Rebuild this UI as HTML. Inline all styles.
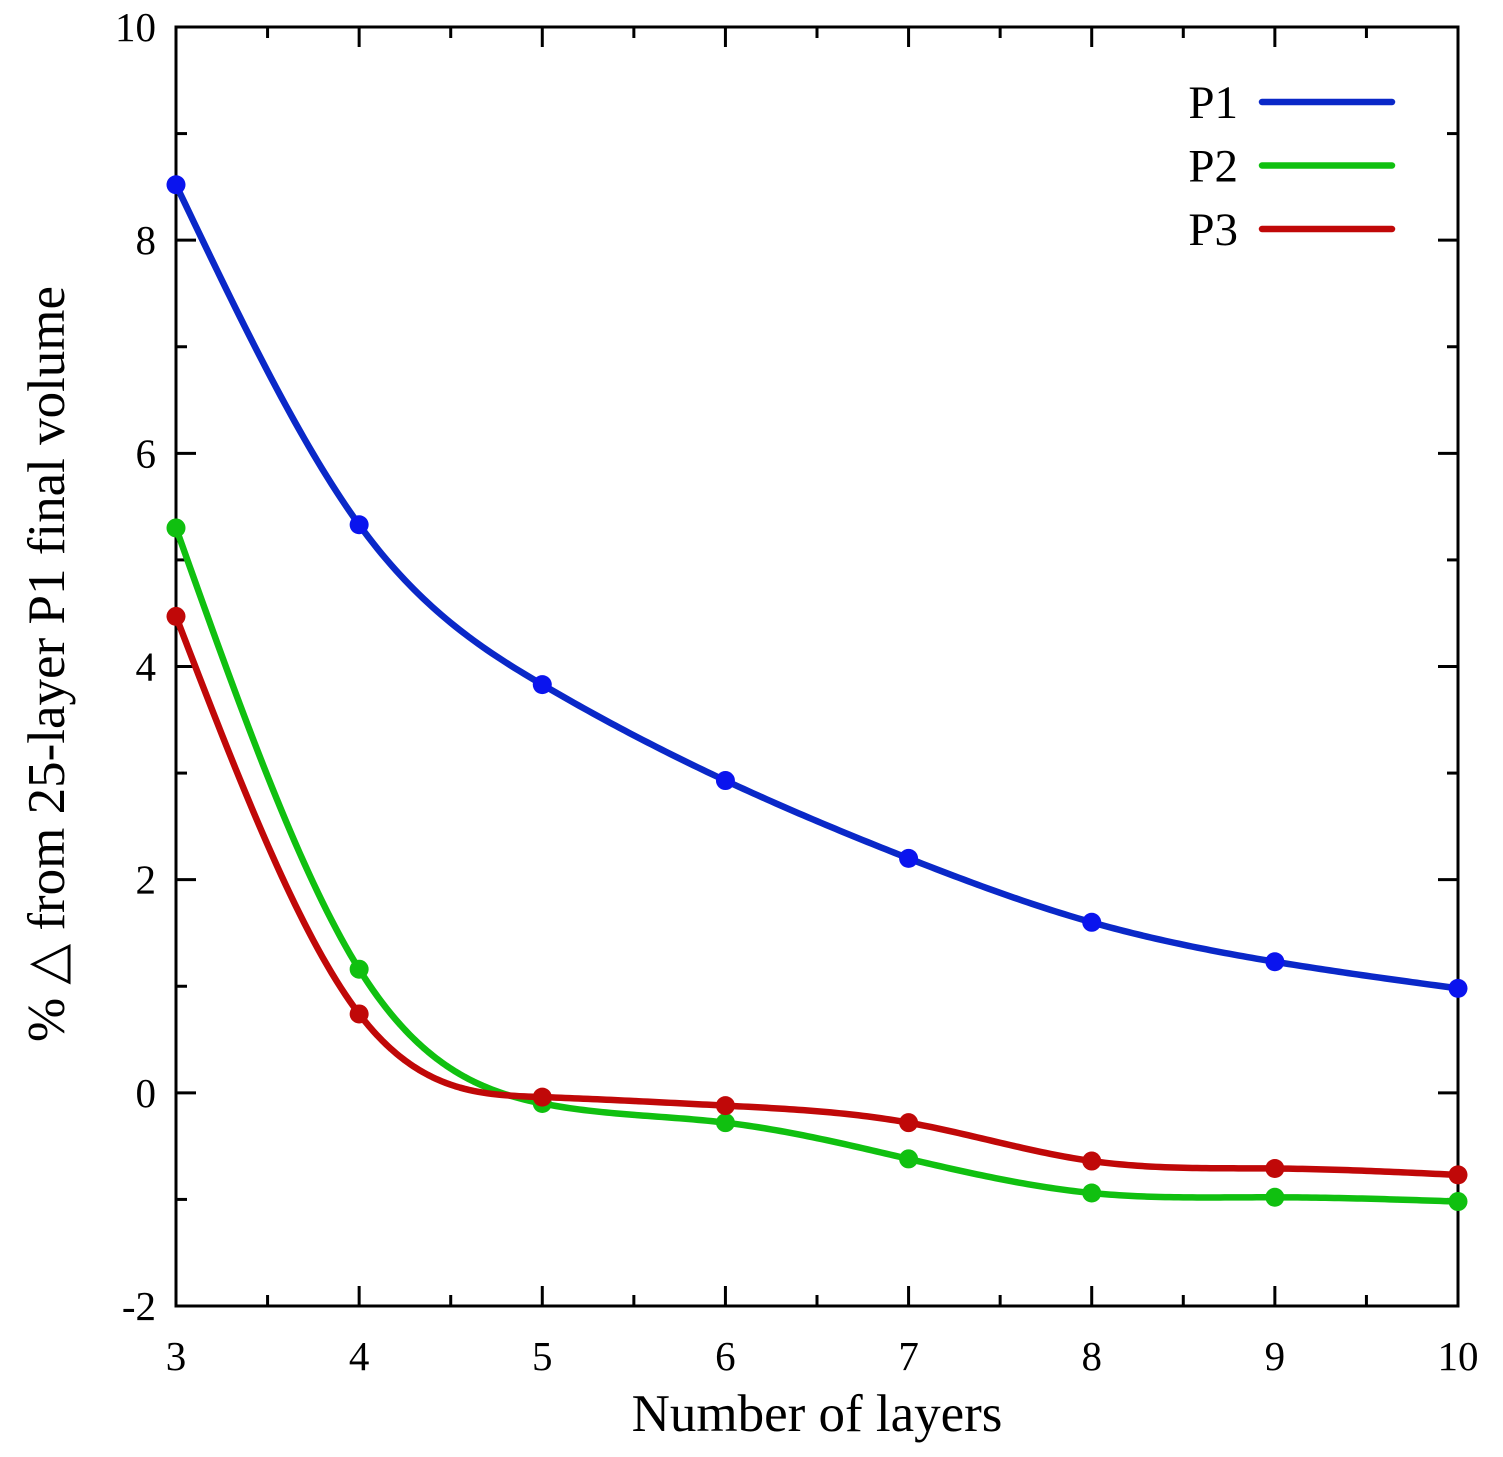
<!DOCTYPE html>
<html><head><meta charset="utf-8"><style>
body{margin:0;background:#fff}
svg text{font-family:"Liberation Serif",serif;fill:#000}
</style></head><body>
<svg id="chart" width="1503" height="1452" xmlns="http://www.w3.org/2000/svg"></svg>
<script>
const categories=[3,4,5,6,7,8,9,10];
const p1=[8.52,5.33,3.83,2.93,2.2,1.6,1.23,0.98];
const p2=[5.3,1.16,-0.1,-0.28,-0.62,-0.94,-0.98,-1.02];
const p3=[4.47,0.74,-0.04,-0.12,-0.28,-0.64,-0.71,-0.77];
const seriesNames=["P1","P2","P3"];
const xTicks=[3,4,5,6,7,8,9,10];
const yTicks=[-2,0,2,4,6,8,10];
const colors=["#0a28c8","#10c010","#c00808"];
const dotColors=["#0a14ee","#10c010","#c00808"];
const L=176,R=1458,T=27,B=1306;
const xs=v=>L+(v-3)/7*(R-L);
const ys=v=>B-(v+2)/12*(B-T);
const svg=document.getElementById('chart');
const NS='http://www.w3.org/2000/svg';
function mk(t,a,p){const e=document.createElementNS(NS,t);for(const k in a)e.setAttribute(k,a[k]);(p||svg).appendChild(e);return e;}
const frame=mk('rect',{x:L,y:T,width:R-L,height:B-T,fill:'none',stroke:'#000','stroke-width':3});


for(let v=-2;v<=10;v+=1){
  const y=ys(v),len=(v%2===0)?20:11;
  const t1=mk('line',{x1:L,x2:L+len,y1:y,y2:y,stroke:'#000','stroke-width':3});
  
  
  const t2=mk('line',{x1:R,x2:R-len,y1:y,y2:y,stroke:'#000','stroke-width':3});
  
  
}
yTicks.forEach(v=>{
  const t=mk('text',{x:L-20,y:ys(v)+14,'text-anchor':'end','font-size':41});
  t.textContent=v;
  
  
});
for(let v=3;v<=10;v+=0.5){
  const x=xs(v),len=(v%1===0)?20:11;
  const t1=mk('line',{x1:x,x2:x,y1:B,y2:B-len,stroke:'#000','stroke-width':3});
  
  
  const t2=mk('line',{x1:x,x2:x,y1:T,y2:T+len,stroke:'#000','stroke-width':3});
  
  
}
xTicks.forEach(v=>{
  const t=mk('text',{x:xs(v),y:1370,'text-anchor':'middle','font-size':41});
  t.textContent=v;
  
  
});
const xt=mk('text',{x:817,y:1431,'text-anchor':'middle','font-size':53});
xt.textContent='Number of layers';


const yt=mk('text',{x:0,y:0,'text-anchor':'middle','font-size':53,transform:'translate(64,664) rotate(-90)'});
yt.textContent='% \u25B3 from 25-layer P1 final volume';


function spline(vals){
  const n=vals.length,x=categories,y=vals;
  const h=[],a=[],l=[1],mu=[0],z=[0],c=new Array(n).fill(0),b=[],d=[];
  for(let i=0;i<n-1;i++)h.push(x[i+1]-x[i]);
  for(let i=1;i<n-1;i++)a[i]=3/h[i]*(y[i+1]-y[i])-3/h[i-1]*(y[i]-y[i-1]);
  for(let i=1;i<n-1;i++){l[i]=2*(x[i+1]-x[i-1])-h[i-1]*mu[i-1];mu[i]=h[i]/l[i];z[i]=(a[i]-h[i-1]*z[i-1])/l[i];}
  for(let j=n-2;j>=0;j--){c[j]=(j<n-1&&j>0)?z[j]-mu[j]*c[j+1]:(j===0?0:c[j]);b[j]=(y[j+1]-y[j])/h[j]-h[j]*(c[j+1]+2*c[j])/3;d[j]=(c[j+1]-c[j])/(3*h[j]);}
  let dd='';
  for(let i=0;i<n-1;i++){
    for(let k=0;k<=40;k++){
      const t=k/40*h[i],v=y[i]+b[i]*t+c[i]*t*t+d[i]*t*t*t;
      dd+=(dd?'L':'M')+xs(x[i]+t).toFixed(2)+','+ys(v).toFixed(2);
    }
  }
  return dd;
}
[p1,p2,p3].forEach((vals,s)=>{
  const g=mk('g',{});
  
  
  const l=mk('path',{d:spline(vals),fill:'none',stroke:colors[s],'stroke-width':6.5,'stroke-linejoin':'round'},g);
  
  
  vals.forEach((v,i)=>{
    const c=mk('circle',{cx:xs(categories[i]),cy:ys(v),r:9.5,fill:dotColors[s]},g);
    
    
  });
  const ly=102+s*63.5;
  const lt=mk('text',{x:1238,y:ly+16,'text-anchor':'end','font-size':47});
  lt.textContent=seriesNames[s];
  
  
  const ll=mk('line',{x1:1262,x2:1392,y1:ly,y2:ly,stroke:colors[s],'stroke-width':6.5,'stroke-linecap':'round'});
  
  
});
</script>
</body></html>
